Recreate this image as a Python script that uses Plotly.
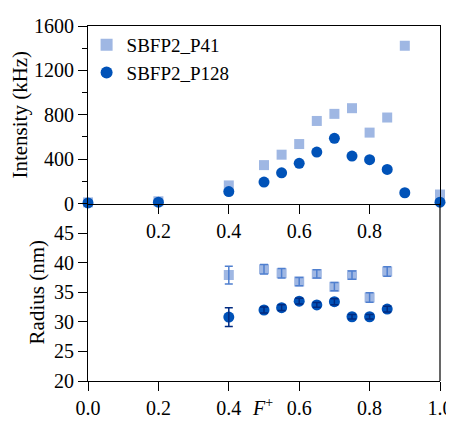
import plotly.graph_objects as go

# ---- data ----
f_int = [0.0, 0.2, 0.4, 0.5, 0.55, 0.6, 0.65, 0.7, 0.75, 0.8, 0.85, 0.9, 1.0]
int_p41 = [10, 20, 163, 346, 440, 536, 744, 808, 859, 639, 775, 1422, 81]
int_p128 = [5, 12, 108, 193, 277, 362, 464, 588, 428, 395, 307, 97, 12]

f_rad = [0.4, 0.5, 0.55, 0.6, 0.65, 0.7, 0.75, 0.8, 0.85]
rad_p41 = [37.9, 38.9, 38.2, 36.8, 38.1, 35.95, 37.9, 34.1, 38.5]
rad_p41_err = [1.5, 0.8, 0.8, 0.7, 0.7, 0.7, 0.7, 0.8, 0.8]
rad_p128 = [30.8, 32.0, 32.4, 33.5, 32.85, 33.4, 30.86, 30.86, 32.15]
rad_p128_err = [1.6, 0.5, 0.5, 0.5, 0.4, 0.5, 0.4, 0.4, 0.5]

labels = ["SBFP2_P41", "SBFP2_P128"]
light = "#9fb7e3"
light_err = "#4f7fcf"
dark = "#0052b8"
dark_err = "#002a80"

FONT = "Liberation Serif"

fig = go.Figure()

# top panel
fig.add_trace(go.Scatter(x=f_int, y=int_p41, mode="markers", name=labels[0],
                         marker=dict(symbol="square", size=10, color=light),
                         cliponaxis=False, xaxis="x", yaxis="y"))
fig.add_trace(go.Scatter(x=f_int, y=int_p128, mode="markers", name=labels[1],
                         marker=dict(symbol="circle", size=11, color=dark),
                         cliponaxis=False, xaxis="x", yaxis="y"))

# bottom panel markers
fig.add_trace(go.Scatter(x=f_rad, y=rad_p41, mode="markers", showlegend=False,
                         marker=dict(symbol="square", size=10, color=light),
                         xaxis="x2", yaxis="y2"))
fig.add_trace(go.Scatter(x=f_rad, y=rad_p128, mode="markers", showlegend=False,
                         marker=dict(symbol="circle", size=11, color=dark),
                         xaxis="x2", yaxis="y2"))
# error bars on top
fig.add_trace(go.Scatter(x=f_rad, y=rad_p41, mode="markers", showlegend=False,
                         marker=dict(size=1, opacity=0),
                         error_y=dict(type="data", array=rad_p41_err, color=light_err,
                                      thickness=1.5, width=4),
                         xaxis="x2", yaxis="y2", hoverinfo="skip"))
fig.add_trace(go.Scatter(x=f_rad, y=rad_p128, mode="markers", showlegend=False,
                         marker=dict(size=1, opacity=0),
                         error_y=dict(type="data", array=rad_p128_err, color=dark_err,
                                      thickness=1.5, width=4),
                         xaxis="x2", yaxis="y2", hoverinfo="skip"))

axcommon = dict(showline=True, linecolor="black", linewidth=1.2, ticks="outside",
                tickcolor="black", ticklen=9, tickwidth=1.2, showgrid=False,
                zeroline=False, automargin=False,
                tickfont=dict(family=FONT, size=20, color="black"))

fig.update_layout(
    width=446, height=413,
    margin=dict(l=79.5, r=13.5, t=18, b=40.3),
    paper_bgcolor="white", plot_bgcolor="white",
    font=dict(family=FONT, color="black"),
    showlegend=True,
    legend=dict(x=-0.004, y=1.0, xanchor="left", yanchor="top",
                font=dict(family=FONT, size=19, color="black"),
                bgcolor="rgba(0,0,0,0)", tracegroupgap=0, itemsizing="constant"),
    xaxis=dict(range=[0, 1], domain=[0, 1], anchor="y", mirror=True,
               tickvals=[0.2, 0.4, 0.6, 0.8], ticktext=["0.2", "0.4", "0.6", "0.8"],
               **axcommon),
    yaxis=dict(range=[0, 1600], domain=[0.5, 1], anchor="x", mirror=True,
               tickvals=[0, 400, 800, 1200, 1600],
               minor=dict(tickvals=[200, 600, 1000, 1400], ticks="outside", ticklen=5,
                          tickcolor="black", tickwidth=1.2),
               title=dict(text="Intensity (kHz)", font=dict(family=FONT, size=21), standoff=3),
               **axcommon),
    xaxis2=dict(range=[0, 1], domain=[0, 1], anchor="y2", mirror=False,
                tickvals=[0, 0.2, 0.4, 0.6, 0.8, 1.0],
                ticktext=["0.0", "0.2", "0.4", "0.6", "0.8", "1.0"],
                **axcommon),
    yaxis2=dict(range=[20, 50], domain=[0, 0.5], anchor="x2", mirror=False,
                tickvals=[20, 25, 30, 35, 40, 45],
                title=dict(text="Radius (nm)", font=dict(family=FONT, size=21), standoff=3),
                **axcommon),
    shapes=[dict(type="line", xref="paper", yref="paper", x0=1, x1=1, y0=0, y1=0.5,
                 line=dict(color="black", width=1.2))],
    annotations=[dict(text="<i>F</i><sup>+</sup>", xref="paper", yref="paper",
                      x=0.495, y=0, yshift=-40, xanchor="center", yanchor="bottom",
                      showarrow=False, font=dict(family=FONT, size=20, color="black"))],
)

fig.write_html("out.html")
